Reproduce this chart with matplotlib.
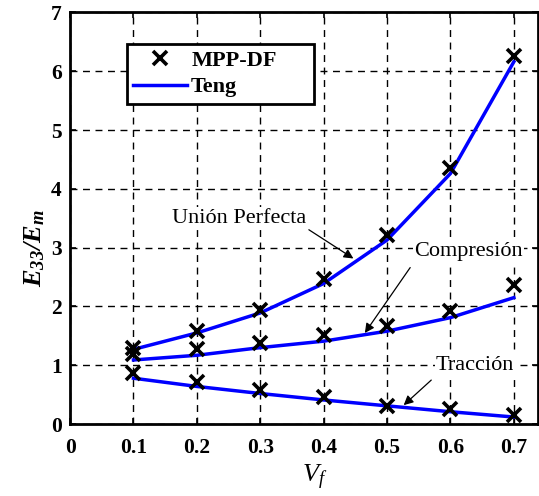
import matplotlib
matplotlib.use("Agg")
import matplotlib.pyplot as plt

vf = [0.1, 0.2, 0.3, 0.4, 0.5, 0.6, 0.7]

# MPP-DF results
mpp_union = [1.30, 1.58, 1.94, 2.47, 3.22, 4.35, 6.26]
mpp_comp = [1.19, 1.28, 1.38, 1.51, 1.67, 1.92, 2.36]
mpp_trac = [0.87, 0.72, 0.58, 0.46, 0.31, 0.25, 0.16]

# Teng model
teng_union = [1.27, 1.55, 1.89, 2.39, 3.13, 4.26, 6.16]
teng_comp = [1.09, 1.17, 1.30, 1.41, 1.58, 1.81, 2.15]
teng_trac = [0.78, 0.64, 0.52, 0.41, 0.31, 0.21, 0.12]

xticks = [0, 0.1, 0.2, 0.3, 0.4, 0.5, 0.6, 0.7]
yticks = [0, 1, 2, 3, 4, 5, 6, 7]

plt.rcParams["font.family"] = ["Liberation Serif", "DejaVu Serif"]
plt.rcParams["mathtext.fontset"] = "custom"
plt.rcParams["mathtext.rm"] = "Liberation Serif"
plt.rcParams["mathtext.it"] = "Liberation Serif:italic"
plt.rcParams["mathtext.bf"] = "Liberation Serif:bold"
plt.rcParams["mathtext.bfit"] = "Liberation Serif:bold:italic"

fig = plt.figure(figsize=(5.39, 4.96), dpi=100)
ax = fig.add_axes([0.130, 0.145, 0.868, 0.830])

mk = dict(linestyle="none", marker="x", color="black", markersize=9.5, markeredgewidth=2.6)
ln = dict(color=(0, 0, 1), linewidth=2.5)

ax.plot(vf, mpp_union, label="MPP-DF", zorder=4, **mk)
ax.plot(vf, teng_union, label="Teng", zorder=3, **ln)
ax.plot(vf, mpp_comp, zorder=4, **mk)
ax.plot(vf, teng_comp, zorder=3, **ln)
ax.plot(vf, mpp_trac, zorder=4, **mk)
ax.plot(vf, teng_trac, zorder=3, **ln)

ax.set_xlim(0, 0.738)
ax.set_ylim(0, 7)
ax.set_xticks(xticks)
ax.set_yticks(yticks)
ax.set_xticklabels(["0"] + [f"{v:.1f}" for v in xticks[1:]], fontsize=15.5, fontweight="bold")
ax.set_yticklabels([str(v) for v in yticks], fontsize=15.5, fontweight="bold")
ax.tick_params(direction="in", length=4, width=1.2, top=True, right=True)
ax.tick_params(axis="x", pad=10)
ax.tick_params(axis="y", pad=6)

ax.grid(True, color="black", linestyle=(0, (5, 4)), linewidth=1.0)
for s in ax.spines.values():
    s.set_linewidth(2.0)

ax.set_xlabel(r"$V_f$", fontsize=19)
ax.xaxis.set_label_coords(0.523, -0.095)
ax.set_ylabel(r"$\mathbfit{E_{33}/E_m}$", fontsize=19)
ax.yaxis.set_label_coords(-0.05, 0.428)

arrow = dict(arrowstyle="-|>", color="black", linewidth=0.9, mutation_scale=14)
box = dict(facecolor="white", edgecolor="none", pad=1)
ax.text(0.267, 3.50, "Unión Perfecta", ha="center", va="center", fontsize=16, bbox=box, zorder=5)
ax.annotate("", xy=(0.4506, 2.79), xytext=(0.373, 3.33), arrowprops=arrow)
ax.text(0.628, 2.93, "Compresión", ha="center", va="center", fontsize=16, bbox=box, zorder=5)
ax.annotate("", xy=(0.4625, 1.51), xytext=(0.539, 2.70), arrowprops=arrow)
ax.text(0.639, 1.0, "Tracción", ha="center", va="center", fontsize=16, bbox=box, zorder=5)
ax.annotate("", xy=(0.523, 0.29), xytext=(0.573, 0.78), arrowprops=arrow)

leg = ax.legend(loc="upper left", bbox_to_anchor=(0.122, 0.923, 0.40, 0.0), mode="expand",
                fancybox=False, framealpha=1, edgecolor="black", borderpad=0.28,
                handlelength=2.4, handletextpad=0.2, labelspacing=0.27, borderaxespad=0,
                prop={"family": "Liberation Serif", "weight": "bold", "size": 16})
leg.get_frame().set_linewidth(2.0)

fig.savefig("out.png", dpi=100)
